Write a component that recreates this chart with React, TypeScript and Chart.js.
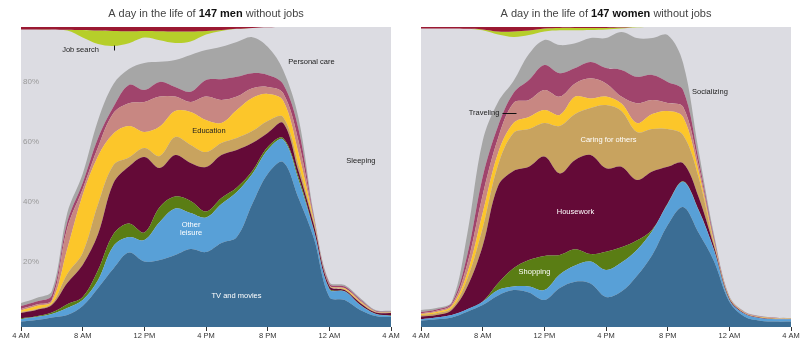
import React, { useEffect, useRef } from 'react';
import { Chart, registerables } from 'chart.js';

Chart.register(...registerables);

// Hours after 4 AM (one point per hour, 4 AM to 4 AM next day)
const HOURS = [0, 1, 2, 3, 4, 5, 6, 7, 8, 9, 10, 11, 12, 13, 14, 15, 16, 17, 18, 19, 20, 21, 22, 23, 24];
const TICK_LABELS = ['4 AM', '8 AM', '12 PM', '4 PM', '8 PM', '12 AM', '4 AM'];
const Y_TICKS = [20, 40, 60, 80];

// ---- Men (share of people, %) ----
const MEN_TV = [1.8, 2.3, 3.2, 4, 7, 13, 19.5, 24.8, 21.8, 22.3, 24, 26, 25, 28, 30, 41, 51, 55, 43, 29.5, 10, 9, 5.7, 3.7, 3.3];
const MEN_OTHER_LEISURE = [0.8, 1.0, 1.1, 2.3, 2.0, 2.7, 7.5, 5.2, 7.2, 12.7, 15.5, 12, 11.5, 13, 15, 10, 8, 7.5, 6, 2.5, 2.6, 2.8, 1.6, 0.6, 0.4];
const MEN_SHOPPING = [0.3, 0.3, 0.5, 1.3, 1.0, 3.3, 4, 4.5, 2.5, 5, 4, 4, 2, 2, 1.5, 1, 1, 0.5, 1, 0.3, 0.2, 0.1, 0.1, 0.1, 0.1];
const MEN_HOUSEWORK = [1.8, 2.1, 2.5, 7.1, 10.7, 12, 17, 19, 25.2, 13, 13.8, 12.7, 14.8, 14.3, 12.5, 9.3, 4.7, 5, 2, 1.7, 0.9, 0.4, 0.6, 0.4, 0.9];
const MEN_CARING = [0.3, 0.3, 0.5, 3, 4, 10, 6, 3, 3, 4, 6, 6, 5, 4, 4, 4, 4, 2, 2, 0.8, 0.1, 0.2, 0.2, 0.2, 0.1];
const MEN_EDUCATION = [0.5, 1.0, 0.7, 8.3, 19.3, 16, 10.5, 10.5, 5.3, 9.8, 8.7, 11, 10.7, 6.7, 9.3, 11, 9, 5.5, 4, 0.7, 0.1, 0.3, 0.3, 0.1, 0.1];
const MEN_TRAVELING = [0.5, 0.5, 0.5, 7, 2, 3, 6.8, 7.6, 10, 10, 4.8, 3.3, 7.8, 7.7, 4.5, 3.3, 2.3, 2.5, 4, 0.5, 0.1, 0.2, 0.3, 0.1, 0.1];
const MEN_SOCIALIZING = [1, 1, 1.5, 2, 2, 3, 2.1, 6.1, 4, 4.9, 3.2, 3.4, 5.5, 6.9, 6.6, 5, 4, 3, 4, 0.5, 0.5, 0.5, 0.4, 0.2, 0.1];
const MEN_PERSONAL_CARE = [1, 1.2, 1.5, 3, 3, 6, 7.6, 5.3, 9, 6.7, 9, 12.3, 10, 10.8, 11.6, 12, 9.4, 4.7, 3.7, 1, 0.5, 0.5, 0.5, 0.3, 0.3];
const MEN_WORK = [0.8, 0.8, 0.8, 0.9, 1, 1.2, 1.3, 1.4, 1.3, 1.4, 1.5, 1.5, 1.3, 1, 0.6, 0.3, 0.1, 0, 0, 0, 0, 0, 0, 0, 0];
const MEN_JOB_SEARCH = [0, 0, 0, 0.3, 2.5, 4.5, 5, 4, 2.2, 3, 3.8, 3.3, 1.2, 0.3, 0, 0, 0, 0, 0, 0, 0, 0, 0, 0, 0];

// ---- Women (share of people, %) ----
const WOMEN_TV = [2.1, 2.6, 3.2, 5.1, 7.3, 10.5, 12.3, 11.5, 9, 13, 15.1, 14.5, 10, 11.8, 17, 24, 34, 40, 31.5, 22, 8.4, 3.4, 2.1, 1.8, 1.8];
const WOMEN_OTHER_LEISURE = [0.5, 0.6, 0.8, 0.8, 1.1, 1.8, 1.2, 2, 3.3, 4.5, 5.4, 7.3, 9, 9.7, 8.7, 8, 7, 8.4, 7.5, 3.7, 0.6, 0.9, 0.8, 0.8, 0.8];
const WOMEN_SHOPPING = [0, 0, 0, 0, 0.1, 2.3, 6.1, 8.8, 11.4, 6.5, 5.4, 2.5, 6.1, 5.1, 3.1, 0.5, 0.2, 0.2, 0.2, 0.1, 0.1, 0, 0, 0, 0];
const WOMEN_HOUSEWORK = [0.9, 0.8, 1.7, 7.5, 18.5, 32.4, 32.4, 31.1, 33.1, 27.2, 29.8, 33, 27.8, 26.8, 20.2, 19.3, 12.2, 6, 4.2, 1.2, 0.4, 0.2, 0.2, 0.1, 0.1];
const WOMEN_CARING = [0.5, 0.6, 0.6, 2.6, 6, 7, 12.7, 12.6, 11.2, 15.8, 15.3, 15.7, 21.1, 18.6, 16, 14.2, 12.6, 9.4, 6.6, 0.8, 0.2, 0.1, 0.1, 0.1, 0.05];
const WOMEN_EDUCATION = [0.3, 0.4, 0.7, 2, 5, 4, 3.3, 4, 4.3, 3.7, 5.8, 3.2, 2.8, 2.5, 3, 5, 6, 6, 2, 0.7, 0.1, 0.1, 0.1, 0.1, 0.05];
const WOMEN_TRAVELING = [0.3, 0.4, 0.5, 3, 6, 5, 6.7, 5.7, 6.7, 6.1, 4.4, 6.7, 4.4, 2.3, 6.6, 4.7, 2.7, 3.4, 2, 0.5, 0.1, 0.1, 0.1, 0.1, 0.05];
const WOMEN_SOCIALIZING = [0.4, 0.4, 0.5, 3, 6, 4, 3.3, 6.6, 8.3, 7.8, 5.1, 5.4, 5.1, 8.9, 8.8, 8.3, 7, 5.6, 2, 0.8, 0.1, 0.1, 0.1, 0.1, 0.05];
const WOMEN_PERSONAL_CARE = [0.7, 0.5, 0.4, 7, 12, 8, 4, 8.7, 8.4, 9.4, 8.3, 8, 10, 12.6, 12.9, 12.3, 15.6, 9, 3, 1.2, 0.3, 0.2, 0.2, 0.1, 0.1];
const WOMEN_WORK = [0.5, 0.5, 0.5, 0.6, 0.8, 1.5, 1.5, 1.2, 0.5, 0.3, 0.3, 0.3, 0.3, 0.2, 0, 0, 0, 0, 0, 0, 0, 0, 0, 0, 0];
const WOMEN_JOB_SEARCH = [0, 0, 0, 0, 0.3, 1, 1.8, 1.5, 1, 0.8, 0.8, 0.7, 0.5, 0.3, 0.1, 0, 0, 0, 0, 0, 0, 0, 0, 0, 0];

const FONT = "'Liberation Sans', Arial, Helvetica, sans-serif";
const SLEEP_COLOR = '#dcdce2';
const COLORS = {
  tv: '#3b6d94',
  leisure: '#58a0d7',
  shopping: '#5a7d14',
  housework: '#640a37',
  caring: '#c8a35f',
  education: '#fcc62a',
  traveling: '#c88782',
  socializing: '#a0446c',
  personal: '#a6a6a6',
  job: '#b6ce2a',
  work: '#9b1932',
};

type Note = { text: string; h: number; p: number; color: string };
type Rule = { h1: number; p1: number; h2: number; p2: number };
type Panel = {
  who: string;
  bottom: { name: string; color: string; values: number[] }[];
  top: { name: string; color: string; values: number[] }[];
  notes: Note[];
  rules: Rule[];
  showY: boolean;
  padLeft: number;
  padRight: number;
};

const DARK = '#222';
const WHITE = '#ffffff';

const MEN_PANEL: Panel = {
  who: '147 men',
  bottom: [
    { name: 'TV and movies', color: COLORS.tv, values: MEN_TV },
    { name: 'Other leisure', color: COLORS.leisure, values: MEN_OTHER_LEISURE },
    { name: 'Shopping', color: COLORS.shopping, values: MEN_SHOPPING },
    { name: 'Housework', color: COLORS.housework, values: MEN_HOUSEWORK },
    { name: 'Caring for others', color: COLORS.caring, values: MEN_CARING },
    { name: 'Education', color: COLORS.education, values: MEN_EDUCATION },
    { name: 'Traveling', color: COLORS.traveling, values: MEN_TRAVELING },
    { name: 'Socializing', color: COLORS.socializing, values: MEN_SOCIALIZING },
    { name: 'Personal care', color: COLORS.personal, values: MEN_PERSONAL_CARE },
  ],
  top: [
    { name: 'Work', color: COLORS.work, values: MEN_WORK },
    { name: 'Job search', color: COLORS.job, values: MEN_JOB_SEARCH },
  ],
  notes: [
    { text: 'Job search', h: 3.86, p: 92.3, color: DARK },
    { text: 'Personal care', h: 18.84, p: 88.3, color: DARK },
    { text: 'Education', h: 12.19, p: 65.3, color: DARK },
    { text: 'Sleeping', h: 22.05, p: 55.2, color: DARK },
    { text: 'Other', h: 11.03, p: 34.0, color: WHITE },
    { text: 'leisure', h: 11.03, p: 31.2, color: WHITE },
    { text: 'TV and movies', h: 13.98, p: 10.3, color: WHITE },
  ],
  rules: [{ h1: 6.03, p1: 94.0, h2: 6.03, p2: 92.3 }],
  showY: true,
  padLeft: 21,
  padRight: 14,
};

const WOMEN_PANEL: Panel = {
  who: '147 women',
  bottom: [
    { name: 'TV and movies', color: COLORS.tv, values: WOMEN_TV },
    { name: 'Other leisure', color: COLORS.leisure, values: WOMEN_OTHER_LEISURE },
    { name: 'Shopping', color: COLORS.shopping, values: WOMEN_SHOPPING },
    { name: 'Housework', color: COLORS.housework, values: WOMEN_HOUSEWORK },
    { name: 'Caring for others', color: COLORS.caring, values: WOMEN_CARING },
    { name: 'Education', color: COLORS.education, values: WOMEN_EDUCATION },
    { name: 'Traveling', color: COLORS.traveling, values: WOMEN_TRAVELING },
    { name: 'Socializing', color: COLORS.socializing, values: WOMEN_SOCIALIZING },
    { name: 'Personal care', color: COLORS.personal, values: WOMEN_PERSONAL_CARE },
  ],
  top: [
    { name: 'Work', color: COLORS.work, values: WOMEN_WORK },
    { name: 'Job search', color: COLORS.job, values: WOMEN_JOB_SEARCH },
  ],
  notes: [
    { text: 'Traveling', h: 4.09, p: 71.3, color: DARK },
    { text: 'Socializing', h: 18.74, p: 78.3, color: DARK },
    { text: 'Caring for others', h: 12.16, p: 62.3, color: WHITE },
    { text: 'Housework', h: 10.02, p: 38.3, color: WHITE },
    { text: 'Shopping', h: 7.36, p: 18.3, color: WHITE },
  ],
  rules: [{ h1: 5.25, p1: 71.3, h2: 6.16, p2: 71.3 }],
  showY: false,
  padLeft: 16,
  padRight: 18,
};

function makePlugin(panel: Panel) {
  return {
    id: 'panelDecor',
    beforeDraw(chart: any) {
      const { ctx, chartArea: a } = chart;
      ctx.save();
      ctx.fillStyle = SLEEP_COLOR;
      ctx.fillRect(a.left, a.top, a.right - a.left, a.bottom - a.top);
      ctx.restore();
    },
    afterDatasetsDraw(chart: any) {
      const { ctx } = chart;
      const xs = chart.scales.x;
      const ys = chart.scales.y;
      ctx.save();
      ctx.font = `7.5px ${FONT}`;
      ctx.textAlign = 'center';
      ctx.textBaseline = 'middle';
      for (const n of panel.notes) {
        ctx.fillStyle = n.color;
        ctx.fillText(n.text, xs.getPixelForValue(n.h), ys.getPixelForValue(n.p));
      }
      ctx.strokeStyle = '#111';
      ctx.lineWidth = 1;
      for (const r of panel.rules) {
        ctx.beginPath();
        const x1 = Math.round(xs.getPixelForValue(r.h1)) + 0.5;
        const x2 = Math.round(xs.getPixelForValue(r.h2)) + 0.5;
        const y1 = Math.round(ys.getPixelForValue(r.p1)) + 0.5;
        const y2 = Math.round(ys.getPixelForValue(r.p2)) + 0.5;
        ctx.moveTo(x1, y1);
        ctx.lineTo(x2, y2);
        ctx.stroke();
      }
      ctx.restore();
    },
    afterDraw(chart: any) {
      const { ctx, chartArea: a } = chart;
      const parts: [string, boolean][] = [
        ['A day in the life of ', false],
        [panel.who, true],
        [' without jobs', false],
      ];
      ctx.save();
      ctx.textBaseline = 'middle';
      ctx.textAlign = 'left';
      let total = 0;
      const widths = parts.map(([t, b]) => {
        ctx.font = `${b ? 'bold ' : ''}11px ${FONT}`;
        const w = ctx.measureText(t).width;
        total += w;
        return w;
      });
      let x = (a.left + a.right) / 2 - total / 2;
      parts.forEach(([t, b], i) => {
        ctx.font = `${b ? 'bold ' : ''}11px ${FONT}`;
        ctx.fillStyle = b ? '#111' : '#444';
        ctx.fillText(t, x, 14);
        x += widths[i];
      });
      ctx.restore();
    },
  };
}

function makeConfig(panel: Panel): any {
  const datasets: any[] = [];
  panel.bottom.forEach((l, i) => {
    datasets.push({
      label: l.name,
      data: l.values.map((v, j) => ({ x: HOURS[j], y: v })),
      backgroundColor: l.color,
      borderColor: l.color,
      borderWidth: 0,
      pointRadius: 0,
      tension: 0.35,
      fill: i === 0 ? 'origin' : '-1',
      yAxisID: 'y',
    });
  });
  panel.top.forEach((l, i) => {
    datasets.push({
      label: l.name,
      data: l.values.map((v, j) => ({ x: HOURS[j], y: v })),
      backgroundColor: l.color,
      borderColor: l.color,
      borderWidth: 0,
      pointRadius: 0,
      tension: 0.35,
      fill: i === 0 ? 'origin' : '-1',
      yAxisID: 'yTop',
    });
  });
  return {
    type: 'line',
    data: { datasets },
    options: {
      animation: false,
      responsive: false,
      maintainAspectRatio: false,
      layout: { padding: { left: panel.padLeft, right: panel.padRight, top: 27, bottom: 0 } },
      plugins: { legend: { display: false }, tooltip: { enabled: false }, title: { display: false } },
      events: [],
      scales: {
        x: {
          type: 'linear',
          min: 0,
          max: 24,
          afterFit: (s: any) => {
            s.height = 22;
          },
          grid: { drawOnChartArea: false, drawTicks: true, tickLength: 4, color: '#333', lineWidth: 1 },
          border: { display: false },
          ticks: {
            stepSize: 4,
            autoSkip: false,
            maxRotation: 0,
            padding: 0,
            color: '#333',
            font: { size: 7.5, family: FONT },
            callback: (v: number) => TICK_LABELS[Math.round(v / 4)] ?? '',
          },
        },
        y: {
          type: 'linear',
          display: panel.showY,
          stacked: true,
          min: 0,
          max: 100,
          position: 'left',
          afterFit: (s: any) => {
            s.width = 0;
          },
          grid: { display: false },
          border: { display: false },
          ticks: {
            mirror: true,
            padding: 2,
            labelOffset: -5,
            stepSize: 20,
            color: '#9a9a9a',
            font: { size: 8, family: FONT },
            callback: (v: number) => (Y_TICKS.includes(v) ? `${v}%` : ''),
          },
        },
        yTop: {
          type: 'linear',
          display: false,
          stacked: true,
          reverse: true,
          min: 0,
          max: 100,
        },
      },
    },
    plugins: [makePlugin(panel)],
  };
}

function PanelChart({ panel, width }: { panel: Panel; width: number }) {
  const ref = useRef<HTMLCanvasElement | null>(null);
  useEffect(() => {
    if (!ref.current) return;
    const chart = new Chart(ref.current, makeConfig(panel));
    return () => chart.destroy();
  }, [panel]);
  return <canvas ref={ref} width={width} height={349} style={{ display: 'block', width, height: 349 }} />;
}

export default function App() {
  return (
    <div
      style={{
        position: 'fixed',
        left: 0,
        top: 0,
        width: 809,
        height: 349,
        background: '#ffffff',
        display: 'flex',
        flexDirection: 'row',
      }}
    >
      <PanelChart panel={MEN_PANEL} width={405} />
      <PanelChart panel={WOMEN_PANEL} width={404} />
    </div>
  );
}
